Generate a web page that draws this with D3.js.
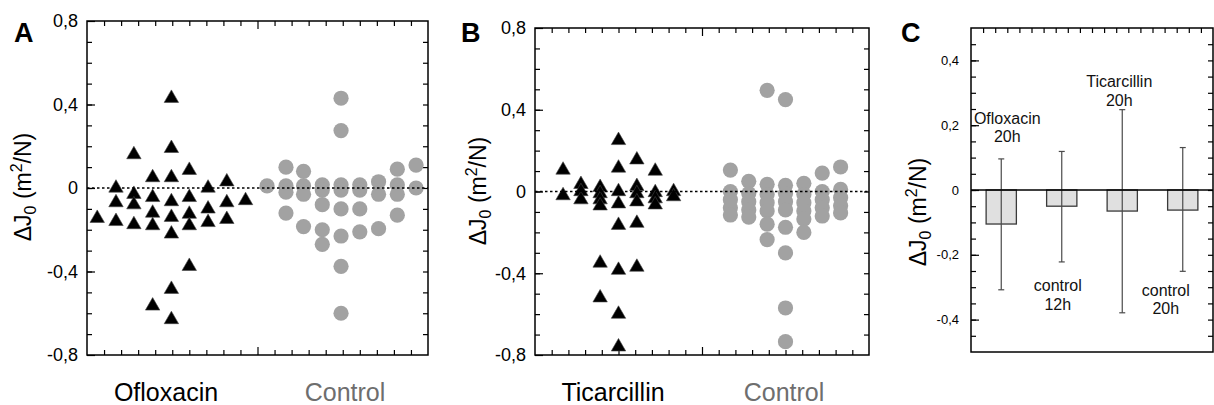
<!DOCTYPE html>
<html>
<head>
<meta charset="UTF-8">
<script src="https://cdn.jsdelivr.net/npm/d3@7"></script>
<style>
body{margin:0;background:#fff;}
text{font-family:"Liberation Sans",Arial,Helvetica,sans-serif;}
</style>
</head>
<body>
<div id="chart"></div>
<script>
// panel A : Ofloxacin (triangles) / Control (circles), one array per column
var ofloColX = [0.6, 1.7, 2.75, 3.85, 4.95, 6.0, 7.1, 8.2, 9.3];
var ofloVals = [
  [-0.145],
  [0.0, -0.07, -0.16],
  [0.16, -0.03, -0.08, -0.175],
  [0.05, -0.045, -0.12, -0.18, -0.565],
  [0.43, 0.19, 0.05, -0.065, -0.14, -0.22, -0.485, -0.63],
  [0.085, -0.045, -0.125, -0.18, -0.375],
  [0.0, -0.10, -0.165],
  [0.03, -0.07, -0.15],
  [-0.06]
];
var ctrlAColX = [10.56, 11.67, 12.7, 13.8, 14.9, 16.0, 17.1, 18.2, 19.3];
var ctrlAVals = [
  [0.01],
  [0.10, 0.01, -0.02, -0.12],
  [0.08, 0.01, -0.03, -0.185],
  [0.015, -0.01, -0.08, -0.20, -0.27],
  [0.43, 0.275, 0.015, -0.01, -0.10, -0.23, -0.375, -0.60],
  [0.015, -0.01, -0.10, -0.21],
  [0.03, -0.03, -0.195],
  [0.09, 0.015, -0.03, -0.13],
  [0.11, 0.0]
];

// panel B : Ticarcillin / Control
var ticaColX = [1.68, 2.75, 3.9, 5.0, 6.1, 7.2, 8.3];
var ticaVals = [
  [0.105, -0.02],
  [0.035, 0.0, -0.04],
  [0.02, -0.01, -0.04, -0.07, -0.35, -0.52],
  [0.25, 0.115, 0.0, -0.06, -0.165, -0.385, -0.60, -0.76],
  [0.155, 0.025, -0.01, -0.05, -0.155, -0.37],
  [0.10, -0.005, -0.035, -0.065],
  [0.0, -0.025]
];
var ctrlBColX = [11.7, 12.8, 13.9, 15.0, 16.1, 17.2, 18.3];
var ctrlBVals = [
  [0.105, 0.0, -0.04, -0.08, -0.115],
  [0.05, -0.01, -0.05, -0.09, -0.125],
  [0.495, 0.035, -0.015, -0.055, -0.095, -0.16, -0.235],
  [0.45, 0.03, -0.01, -0.05, -0.09, -0.175, -0.30, -0.57, -0.735],
  [0.04, -0.015, -0.055, -0.095, -0.135, -0.2],
  [0.09, 0.0, -0.04, -0.08, -0.12],
  [0.12, 0.01, -0.03, -0.07, -0.105]
];

// panel C : mean bars with error whiskers
var barNames = [["Ofloxacin", "20h"], ["control", "12h"], ["Ticarcillin", "20h"], ["control", "20h"]];
var barMeans = [-0.105, -0.05, -0.065, -0.062];
var barErrTop = [0.096, 0.119, 0.248, 0.131];
var barErrBottom = [-0.308, -0.222, -0.379, -0.251];

var ticksAB = [-0.8, -0.4, 0, 0.4, 0.8];
var ticksC = [-0.4, -0.2, 0, 0.2, 0.4];

var W = 1214, H = 405;
var svg = d3.select("#chart").append("svg").attr("width", W).attr("height", H);

function fmt(d) {
  if (d === 0) return "0";
  return (d < 0 ? "-" : "") + Math.abs(d).toFixed(1).replace(".", ",");
}

function yLabel(g, x, y) {
  var t = g.append("text")
    .attr("transform", "translate(" + x + "," + y + ") rotate(-90)")
    .attr("text-anchor", "middle")
    .attr("dy", "0.35em")
    .attr("font-size", 23);
  t.append("tspan").text("\u0394J");
  t.append("tspan").attr("font-size", 16).attr("dy", 5).text("0");
  t.append("tspan").attr("dy", -5).text(" (m");
  t.append("tspan").attr("font-size", 16).attr("dy", -9).text("2");
  t.append("tspan").attr("dy", 9).text("/N)");
}

function frameTicks(g, x, y, o) {
  // y ticks point inside on both sides, majors a bit longer
  var yMinor = d3.range(Math.round(y.domain()[0] / o.yMinor) + 1, Math.round(y.domain()[1] / o.yMinor))
    .map(function (k) { return +(k * o.yMinor).toFixed(3); });
  var x0 = x.range()[0], x1 = x.range()[1], y0 = y.range()[1], y1 = y.range()[0];

  g.append("g").attr("transform", "translate(" + x0 + ",0)")
    .call(d3.axisRight(y).tickValues(yMinor).tickSize(5).tickFormat(""))
    .call(function (a) { a.select(".domain").remove(); });
  g.append("g").attr("transform", "translate(" + x0 + ",0)")
    .call(d3.axisRight(y).tickValues(o.yMajor).tickSize(8).tickFormat(""))
    .call(function (a) { a.select(".domain").remove(); });
  g.append("g").attr("transform", "translate(" + x0 + ",0)")
    .call(d3.axisLeft(y).tickValues(o.yMajor).tickSize(0).tickPadding(o.yPad).tickFormat(fmt))
    .call(function (a) {
      a.select(".domain").remove();
      a.selectAll("text").attr("font-size", o.tickFont).attr("fill", "#000")
        .style("font-family", '"Liberation Sans",Arial,sans-serif');
    });
  g.append("g").attr("transform", "translate(" + x1 + ",0)")
    .call(d3.axisLeft(y).tickValues(yMinor).tickSize(5).tickFormat(""))
    .call(function (a) { a.select(".domain").remove(); });

  // x ticks, inward at top (and bottom when asked)
  var xt = d3.range(o.xStep, x.domain()[1] - 1e-6, o.xStep).map(function (v) { return +v.toFixed(3); });
  var top = g.append("g").attr("transform", "translate(0," + y0 + ")")
    .call(d3.axisBottom(x).tickValues(xt).tickSize(5).tickFormat(""));
  top.select(".domain").remove();
  if (o.xMajor != null) {
    top.selectAll(".tick line").filter(function (d) { return d === o.xMajor; }).attr("y2", 8);
  }
  if (o.bottomTicks) {
    var bot = g.append("g").attr("transform", "translate(0," + y1 + ")")
      .call(d3.axisTop(x).tickValues(xt).tickSize(5).tickFormat(""));
    bot.select(".domain").remove();
    bot.selectAll(".tick line").filter(function (d) { return d === o.xMajor; }).attr("y2", -8);
  }
  g.selectAll(".tick line").attr("stroke", "#000").attr("stroke-width", 1.2);

  g.append("rect")
    .attr("x", x0).attr("y", y0).attr("width", x1 - x0).attr("height", y1 - y0)
    .attr("fill", "none").attr("stroke", "#000").attr("stroke-width", 1.5);
}

function flatten(colX, vals) {
  var out = [];
  vals.forEach(function (col, i) {
    col.forEach(function (v) { out.push({ x: colX[i], v: v }); });
  });
  return out;
}

function scatterPanel(o) {
  var g = svg.append("g");
  var x = d3.scaleLinear().domain([0, 20]).range([o.left, o.right]);
  var y = d3.scaleLinear().domain([-0.8, 0.8]).range([o.bottom, o.top]);

  frameTicks(g, x, y, { yMajor: ticksAB, yMinor: 0.1, xStep: 1, xMajor: 10, bottomTicks: true, tickFont: 18, yPad: 9 });

  var tri = d3.symbol().type(d3.symbolTriangle).size(90);
  g.append("g").selectAll("path")
    .data(flatten(o.drugX, o.drugVals))
    .join("path")
    .attr("d", tri)
    .attr("transform", function (d) { return "translate(" + x(d.x) + "," + y(d.v) + ")"; })
    .attr("fill", "#000").attr("stroke", "#444").attr("stroke-width", 0.6);

  g.append("g").selectAll("circle")
    .data(flatten(o.ctrlX, o.ctrlVals))
    .join("circle")
    .attr("cx", function (d) { return x(d.x); })
    .attr("cy", function (d) { return y(d.v); })
    .attr("r", 7.6)
    .attr("fill", "#a2a2a2");

  g.append("line")
    .attr("x1", o.left).attr("x2", o.right).attr("y1", y(0)).attr("y2", y(0))
    .attr("stroke", "#000").attr("stroke-width", 1.3).attr("stroke-dasharray", "2.5,2.5");

  g.append("text").attr("x", o.letterX).attr("y", 42).attr("font-size", 27).attr("font-weight", "bold").text(o.letter);
  yLabel(g, o.labelX, o.labelY);

  g.append("text").attr("x", o.drugNameX).attr("y", 401).attr("text-anchor", "middle")
    .attr("font-size", 25).attr("fill", "#000").text(o.drugName);
  g.append("text").attr("x", o.ctrlNameX).attr("y", 401).attr("text-anchor", "middle")
    .attr("font-size", 25).attr("fill", "#6e6e6e").text("Control");
}

scatterPanel({
  left: 87, right: 428, top: 21, bottom: 355,
  drugX: ofloColX, drugVals: ofloVals, ctrlX: ctrlAColX, ctrlVals: ctrlAVals,
  letter: "A", letterX: 14, labelX: 23, labelY: 187,
  drugName: "Ofloxacin", drugNameX: 166, ctrlNameX: 345
});
scatterPanel({
  left: 535, right: 869, top: 28, bottom: 355,
  drugX: ticaColX, drugVals: ticaVals, ctrlX: ctrlBColX, ctrlVals: ctrlBVals,
  letter: "B", letterX: 461, labelX: 478, labelY: 191,
  drugName: "Ticarcillin", drugNameX: 613, ctrlNameX: 784
});

// panel C
(function () {
  var g = svg.append("g");
  var x = d3.scaleLinear().domain([0, 4]).range([971, 1213]);
  var y = d3.scaleLinear().domain([-0.5, 0.5]).range([352, 28]);
  var idx = d3.range(barMeans.length);
  var bw = x(0.5) - x(0);

  frameTicks(g, x, y, { yMajor: ticksC, yMinor: 0.05, xStep: 0.2, xMajor: null, bottomTicks: false, tickFont: 13, yPad: 12 });

  g.selectAll("rect.bar").data(idx).join("rect")
    .attr("class", "bar")
    .attr("x", function (i) { return x(i + 0.5) - bw / 2; })
    .attr("width", bw)
    .attr("y", y(0))
    .attr("height", function (i) { return y(barMeans[i]) - y(0); })
    .attr("fill", "#e0e0e0").attr("stroke", "#3a3a3a").attr("stroke-width", 1.3);

  g.selectAll("line.err").data(idx).join("line")
    .attr("class", "err")
    .attr("x1", function (i) { return x(i + 0.5); })
    .attr("x2", function (i) { return x(i + 0.5); })
    .attr("y1", function (i) { return y(barErrTop[i]); })
    .attr("y2", function (i) { return y(barErrBottom[i]); })
    .attr("stroke", "#4a4a4a").attr("stroke-width", 1.2);
  [barErrTop, barErrBottom].forEach(function (arr) {
    g.append("g").selectAll("line").data(idx).join("line")
      .attr("x1", function (i) { return x(i + 0.5) - 3; })
      .attr("x2", function (i) { return x(i + 0.5) + 3; })
      .attr("y1", function (i) { return y(arr[i]); })
      .attr("y2", function (i) { return y(arr[i]); })
      .attr("stroke", "#4a4a4a").attr("stroke-width", 1.2);
  });

  g.append("line").attr("x1", 971).attr("x2", 1213).attr("y1", y(0)).attr("y2", y(0))
    .attr("stroke", "#000").attr("stroke-width", 1.3);

  // annotation placement: [x offset from bar centre in px, first line value]
  var labelPos = [[6, 0.205], [-4, -0.313], [-3, 0.318], [-17, -0.326]];
  idx.forEach(function (i) {
    var t = g.append("text").attr("text-anchor", "middle").attr("font-size", 16).attr("fill", "#111");
    barNames[i].forEach(function (s, k) {
      t.append("tspan").attr("x", x(i + 0.5) + labelPos[i][0])
        .attr("y", y(labelPos[i][1]) + k * 18.8).text(s);
    });
  });

  g.append("text").attr("x", 901).attr("y", 42).attr("font-size", 27).attr("font-weight", "bold").text("C");
  yLabel(g, 918, 212);
})();
</script>
</body>
</html>
